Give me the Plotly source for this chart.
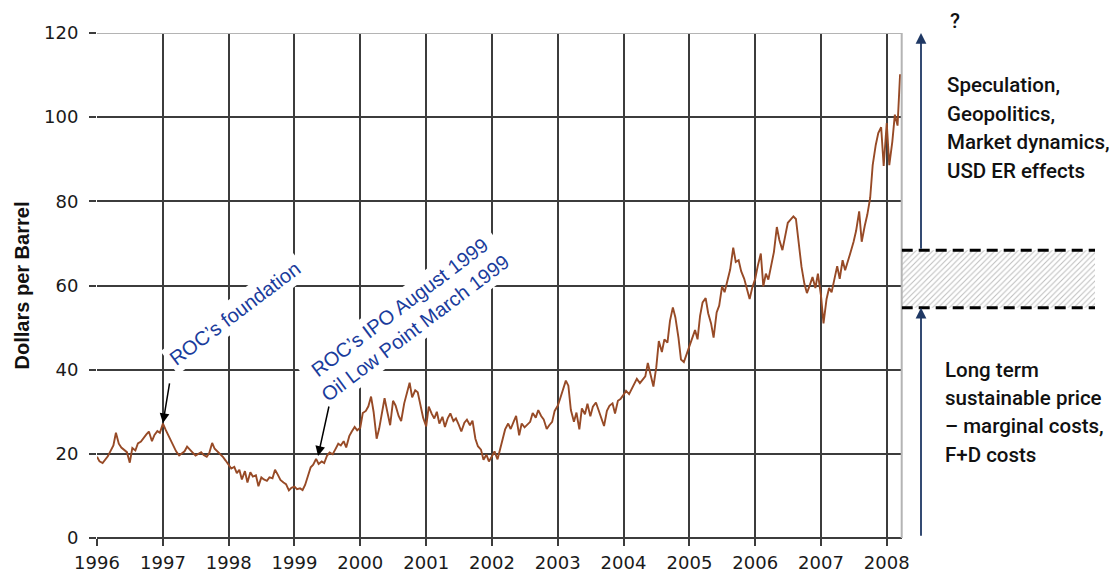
import pandas as pd
import plotly.graph_objects as go

# Crude oil price, semi-monthly readings (USD per barrel), Jan 1996 - Mar 2008
p1996 = [19.3, 18.2, 17.8, 18.6, 19.4, 20.6, 22.0, 25.0, 22.4, 21.5, 21.0, 20.4,
         17.9, 21.4, 20.8, 22.5, 22.9, 23.8, 24.6, 25.3, 23.0, 24.5, 25.4, 25.0]
p1997 = [27.2, 25.8, 24.2, 22.9, 21.5, 20.6, 19.6, 20.1, 20.6, 21.7, 20.8, 20.3,
         19.6, 19.9, 20.4, 19.7, 19.3, 20.2, 22.6, 21.2, 20.5, 20.1, 19.2, 18.4]
p1998 = [17.3, 16.5, 16.9, 15.4, 16.2, 13.9, 15.9, 13.2, 15.6, 14.6, 14.9, 12.3,
         14.4, 13.9, 13.6, 14.4, 14.2, 16.2, 15.0, 13.8, 13.2, 12.8, 11.3, 11.9]
p1999 = [12.2, 11.6, 11.8, 11.4, 12.6, 14.6, 16.8, 17.4, 18.8, 17.6, 18.2, 17.8,
         19.6, 20.3, 19.9, 21.0, 22.4, 22.0, 23.0, 21.5, 24.2, 25.3, 26.4, 25.6]
p2000 = [26.2, 29.7, 30.2, 31.3, 33.6, 30.0, 23.6, 26.0, 30.4, 33.2, 29.6, 26.8,
         32.6, 31.5, 29.0, 27.8, 32.0, 34.5, 36.9, 33.4, 35.1, 34.6, 31.0, 28.6]
p2001 = [26.5, 31.2, 29.5, 28.4, 30.0, 27.2, 28.8, 26.4, 28.5, 29.6, 27.8, 28.4,
         26.9, 25.3, 27.4, 28.1, 26.8, 27.9, 23.6, 21.8, 21.0, 18.6, 19.8, 18.2]
p2002 = [19.4, 20.6, 18.7, 20.9, 23.6, 25.8, 27.2, 25.9, 27.6, 29.0, 24.4, 27.2,
         26.3, 26.8, 27.6, 29.7, 28.6, 30.4, 29.0, 28.2, 25.9, 26.8, 27.6, 30.2]
p2003 = [31.4, 33.2, 35.8, 37.4, 36.2, 30.4, 27.6, 29.8, 25.8, 30.8, 29.4, 31.9,
         28.9, 31.2, 32.2, 30.4, 28.6, 26.6, 30.2, 31.4, 32.0, 29.6, 32.6, 33.0]
p2004 = [34.0, 35.0, 34.2, 35.4, 36.4, 37.8, 36.8, 37.6, 38.4, 41.6, 38.4, 36.0,
         40.6, 46.8, 44.2, 47.2, 46.4, 51.6, 54.8, 52.4, 47.6, 42.4, 41.8, 43.6]
p2005 = [45.4, 47.2, 49.4, 47.2, 52.8, 56.0, 57.0, 53.4, 51.0, 47.6, 53.6, 55.2,
         59.8, 58.4, 61.2, 63.8, 69.0, 65.6, 66.0, 63.4, 61.6, 59.2, 56.8, 59.4]
p2006 = [61.6, 64.6, 67.6, 59.8, 62.8, 61.4, 64.6, 68.0, 73.9, 70.8, 68.4, 71.6,
         74.9, 75.6, 76.4, 75.8, 69.6, 64.4, 60.4, 58.2, 60.2, 62.0, 59.4, 62.8]
p2007 = [57.6, 51.0, 56.8, 59.4, 58.4, 61.4, 64.6, 61.6, 66.0, 63.6, 66.4, 68.0,
         70.4, 73.0, 77.6, 70.4, 74.2, 76.8, 80.8, 88.6, 93.4, 96.2, 97.6, 88.4]
p2008 = [98.6, 88.6, 94.2, 100.6, 98.0, 110.2]

price = p1996 + p1997 + p1998 + p1999 + p2000 + p2001 + p2002 + p2003 + \
    p2004 + p2005 + p2006 + p2007 + p2008
dates = pd.date_range("1996-01-01", periods=len(price), freq="SMS")

# Band of the long-term sustainable price (USD per barrel)
band_low, band_high = 54.7, 68.4

y_ticks = [0, 20, 40, 60, 80, 100, 120]

upper_lines = ["Speculation,", "Geopolitics,", "Market dynamics,", "USD ER effects"]
lower_lines = ["Long term", "sustainable price", "\u2013 marginal costs,", "F+D costs"]

# Page geometry (pixels)
W, H = 1109, 575
ML, MT, MB = 97, 33, 37
PLOT_RIGHT = 901.7
PW, PH = W - ML, H - MT - MB


def px_x(px):
    return (px - ML) / PW


def px_y(py):
    return (H - MB - py) / PH


BLUE = "#1a3c9c"
NAVY = "#1f3864"
GRID = "#3c3c3c"
SIDE_FONT = dict(family="Roboto, Liberation Sans, Arial, sans-serif", size=20.5,
                 color="#111", weight=500)

fig = go.Figure()

fig.add_trace(go.Scatter(
    x=dates, y=price, mode="lines",
    line=dict(color="#974a26", width=1.9),
    showlegend=False, hoverinfo="skip",
))

# Hatched band on the right-hand panel
fig.add_trace(go.Scatter(
    x=[PLOT_RIGHT, 1095, 1095, PLOT_RIGHT, PLOT_RIGHT],
    y=[band_low, band_low, band_high, band_high, band_low],
    xaxis="x2", yaxis="y2", mode="none", fill="toself",
    fillcolor="rgba(0,0,0,0)",
    fillpattern=dict(shape="/", fgcolor="#7a7a7a", bgcolor="white", size=4, solidity=0.25),
    showlegend=False, hoverinfo="skip",
))

split = px_x(PLOT_RIGHT)

fig.update_layout(
    width=W, height=H,
    margin=dict(l=ML, r=0, t=MT, b=MB, autoexpand=False),
    paper_bgcolor="white", plot_bgcolor="white",
    font=dict(family="DejaVu Sans, Verdana, sans-serif", color="#1a1a1a"),
    xaxis=dict(
        domain=[0, split], type="date",
        range=["1996-01-01", "2008-03-24"],
        tick0="1996-01-01", dtick="M12", tickformat="%Y",
        showgrid=True, gridcolor=GRID, gridwidth=1.5,
        ticks="outside", ticklen=7, tickcolor=GRID, tickwidth=1.5,
        ticklabelstandoff=1,
        tickfont=dict(size=18, color="#1a1a1a"),
        showline=False, zeroline=False, automargin=False,
    ),
    yaxis=dict(
        range=[0, 120], tickvals=y_ticks,
        showgrid=True, gridcolor=GRID, gridwidth=1.5,
        zeroline=True, zerolinecolor=GRID, zerolinewidth=1.5,
        ticks="outside", ticklen=7, tickcolor=GRID, tickwidth=1.5,
        ticklabelstandoff=7,
        tickfont=dict(size=18, color="#1a1a1a"),
        showline=False, automargin=False,
        title=dict(text="<b>Dollars per Barrel</b>", standoff=9,
                   font=dict(family="Liberation Sans, Arial, sans-serif", size=20, color="#111")),
    ),
    xaxis2=dict(domain=[split, 1], range=[PLOT_RIGHT, W], anchor="y2", visible=False),
    yaxis2=dict(range=[0, 120], anchor="x2", visible=False),
)

# Frame edges on top and right in light grey
fig.add_shape(type="line", xref="paper", yref="y", x0=0, x1=split, y0=120, y1=120,
              line=dict(color="#b4b4b4", width=2), layer="above")
fig.add_shape(type="line", xref="paper", yref="y", x0=split, x1=split, y0=0, y1=120,
              line=dict(color="#b4b4b4", width=2), layer="above")

# Dashed limits of the band
for yv in (band_low, band_high):
    fig.add_shape(type="line", xref="x2", yref="y2", x0=PLOT_RIGHT, x1=1095, y0=yv, y1=yv,
                  line=dict(color="black", width=3, dash="11px,6px"))

# Event labels
label_font = dict(family="Liberation Sans, Arial, sans-serif", size=20, color=BLUE)
fig.add_annotation(x="1998-02-07", y=53.5, text="ROC\u2019s foundation", showarrow=False,
                   textangle=-37, bgcolor="white", borderpad=3, font=label_font)
fig.add_annotation(x="2000-09-17", y=52.3,
                   text="ROC\u2019s IPO August 1999<br>Oil Low Point March 1999",
                   showarrow=False, textangle=-37, bgcolor="white", borderpad=3, align="center",
                   font=label_font)

# Pointer arrows to the events
for head_x, head_y, tail_x, tail_y in [("1997-01-01", 27.3, "1997-02-08", 37.1),
                                       ("1999-05-12", 19.5, "1999-07-13", 31.6)]:
    fig.add_annotation(x=head_x, y=head_y, ax=tail_x, ay=tail_y, axref="x", ayref="y",
                       text="", showarrow=True, arrowhead=2, arrowsize=1.3,
                       arrowwidth=1.5, arrowcolor="black", standoff=0)

# Vertical arrows on the right-hand panel
fig.add_annotation(x=921, y=120, ax=921, ay=band_high, xref="x2", yref="y2",
                   axref="x2", ayref="y2", text="", showarrow=True, arrowhead=2,
                   arrowsize=1.2, arrowwidth=1.8, arrowcolor=NAVY, standoff=0)
fig.add_annotation(x=921, y=band_low, ax=921, ay=0.2, xref="x2", yref="y2",
                   axref="x2", ayref="y2", text="", showarrow=True, arrowhead=2,
                   arrowsize=1.2, arrowwidth=1.8, arrowcolor=NAVY, standoff=0)

fig.add_annotation(xref="paper", yref="paper", x=px_x(948), y=px_y(21), text="?",
                   showarrow=False, xanchor="left", yanchor="middle", font=SIDE_FONT)
for i, line in enumerate(upper_lines):
    fig.add_annotation(xref="paper", yref="paper", x=px_x(945), y=px_y(85 + 28.5 * i),
                       text=line, showarrow=False, xanchor="left", yanchor="middle",
                       font=SIDE_FONT)
for i, line in enumerate(lower_lines):
    fig.add_annotation(xref="paper", yref="paper", x=px_x(943), y=px_y(370 + 28.2 * i),
                       text=line, showarrow=False, xanchor="left", yanchor="middle",
                       font=SIDE_FONT)

fig.write_html("out.html")
